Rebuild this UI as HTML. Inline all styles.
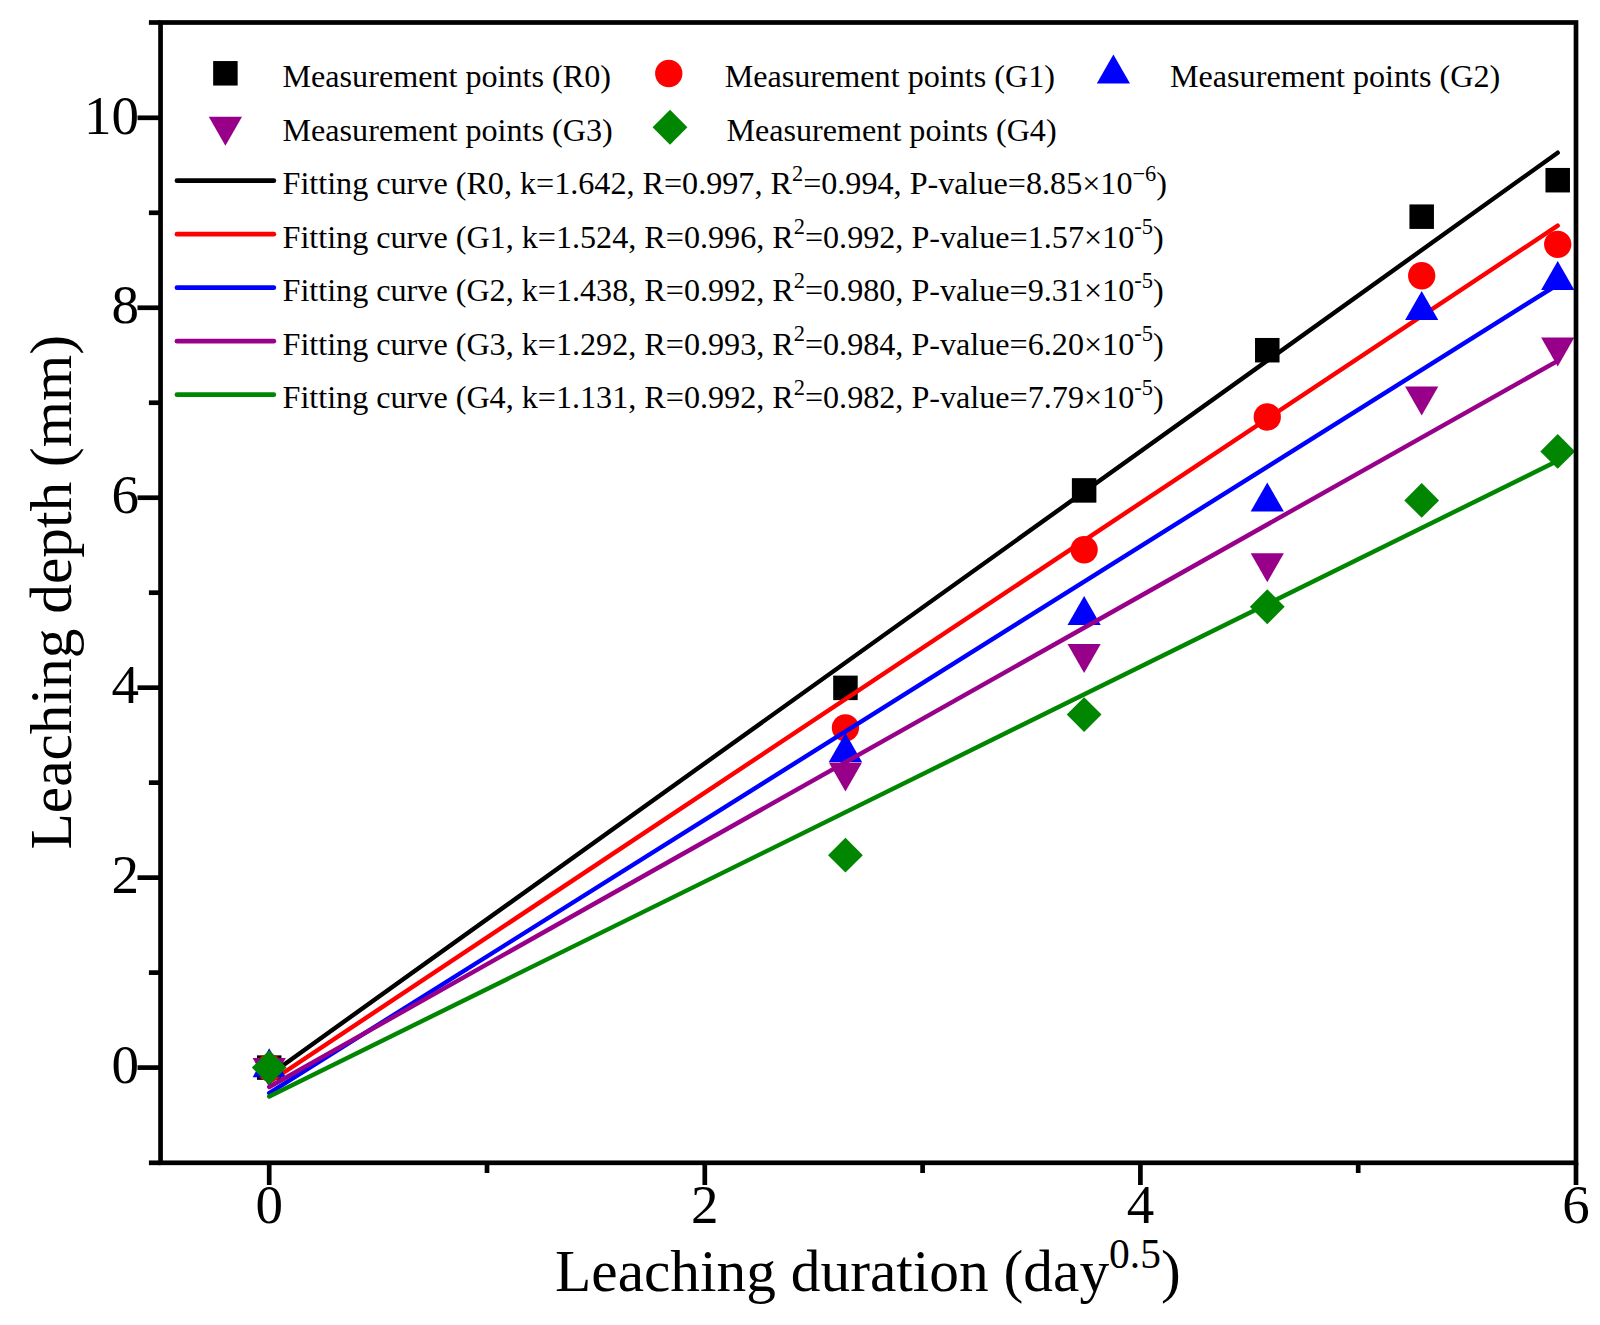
<!DOCTYPE html>
<html lang="en"><head><meta charset="utf-8"><title>Leaching depth vs leaching duration</title>
<style>html,body{margin:0;padding:0;background:#fff}body{width:1600px;height:1325px;overflow:hidden}svg{display:block}text{font-kerning:none;font-family:"Liberation Serif","Times New Roman",Times,serif;fill:#000}</style>
</head><body>
<svg width="1600" height="1325" viewBox="0 0 1600 1325">
<rect width="1600" height="1325" fill="#fff"/>
<g id="series">
<rect x="256.95" y="1055.35" width="24.5" height="24.5" fill="#000000"/>
<rect x="833.19" y="675.62" width="24.5" height="24.5" fill="#000000"/>
<rect x="1071.88" y="478.16" width="24.5" height="24.5" fill="#000000"/>
<rect x="1255.03" y="337.97" width="24.5" height="24.5" fill="#000000"/>
<rect x="1409.44" y="204.42" width="24.5" height="24.5" fill="#000000"/>
<rect x="1545.47" y="167.95" width="24.5" height="24.5" fill="#000000"/>
<line x1="269.20" y1="1075.18" x2="1557.72" y2="152.69" stroke="#000000" stroke-width="4.4" stroke-linecap="round"/>
<circle cx="269.20" cy="1067.60" r="13.65" fill="#ff0000"/>
<circle cx="845.44" cy="727.86" r="13.65" fill="#ff0000"/>
<circle cx="1084.13" cy="549.77" r="13.65" fill="#ff0000"/>
<circle cx="1267.28" cy="416.99" r="13.65" fill="#ff0000"/>
<circle cx="1421.69" cy="275.75" r="13.65" fill="#ff0000"/>
<circle cx="1557.72" cy="244.31" r="13.65" fill="#ff0000"/>
<line x1="269.20" y1="1082.24" x2="1557.72" y2="225.63" stroke="#ff0000" stroke-width="4.4" stroke-linecap="round"/>
<polygon points="269.20,1048.27 285.80,1077.27 252.60,1077.27" fill="#0000ff"/>
<polygon points="845.44,733.12 862.04,762.12 828.84,762.12" fill="#0000ff"/>
<polygon points="1084.13,595.88 1100.73,624.88 1067.53,624.88" fill="#0000ff"/>
<polygon points="1267.28,482.47 1283.88,511.47 1250.68,511.47" fill="#0000ff"/>
<polygon points="1421.69,290.90 1438.29,319.90 1405.09,319.90" fill="#0000ff"/>
<polygon points="1557.72,260.88 1574.32,289.88 1541.12,289.88" fill="#0000ff"/>
<line x1="269.20" y1="1093.09" x2="1557.72" y2="284.53" stroke="#0000ff" stroke-width="4.4" stroke-linecap="round"/>
<polygon points="269.20,1086.93 285.80,1057.93 252.60,1057.93" fill="#98008a"/>
<polygon points="845.44,791.55 862.04,762.55 828.84,762.55" fill="#98008a"/>
<polygon points="1084.13,673.11 1100.73,644.11 1067.53,644.11" fill="#98008a"/>
<polygon points="1267.28,582.21 1283.88,553.21 1250.68,553.21" fill="#98008a"/>
<polygon points="1421.69,415.42 1438.29,386.42 1405.09,386.42" fill="#98008a"/>
<polygon points="1557.72,366.61 1574.32,337.61 1541.12,337.61" fill="#98008a"/>
<line x1="269.20" y1="1086.96" x2="1557.72" y2="360.86" stroke="#98008a" stroke-width="4.4" stroke-linecap="round"/>
<polygon points="269.20,1050.20 286.60,1067.60 269.20,1085.00 251.80,1067.60" fill="#008600"/>
<polygon points="845.44,837.82 862.84,855.22 845.44,872.62 828.04,855.22" fill="#008600"/>
<polygon points="1084.13,697.16 1101.53,714.56 1084.13,731.96 1066.73,714.56" fill="#008600"/>
<polygon points="1267.28,589.36 1284.68,606.76 1267.28,624.16 1249.88,606.76" fill="#008600"/>
<polygon points="1421.69,482.98 1439.09,500.38 1421.69,517.78 1404.29,500.38" fill="#008600"/>
<polygon points="1557.72,434.06 1575.12,451.46 1557.72,468.86 1540.32,451.46" fill="#008600"/>
<line x1="269.20" y1="1096.46" x2="1557.72" y2="460.83" stroke="#008600" stroke-width="4.4" stroke-linecap="round"/>
</g>
<g id="axes" stroke="#000" stroke-width="4.7" fill="none">
<rect x="160.55" y="22.5" width="1415.45" height="1140.3"/>
<line x1="148.9" y1="1162.80" x2="160.55" y2="1162.80"/>
<line x1="137.5" y1="1067.60" x2="160.55" y2="1067.60"/>
<line x1="148.9" y1="972.62" x2="160.55" y2="972.62"/>
<line x1="137.5" y1="877.64" x2="160.55" y2="877.64"/>
<line x1="148.9" y1="782.66" x2="160.55" y2="782.66"/>
<line x1="137.5" y1="687.68" x2="160.55" y2="687.68"/>
<line x1="148.9" y1="592.70" x2="160.55" y2="592.70"/>
<line x1="137.5" y1="497.72" x2="160.55" y2="497.72"/>
<line x1="148.9" y1="402.74" x2="160.55" y2="402.74"/>
<line x1="137.5" y1="307.76" x2="160.55" y2="307.76"/>
<line x1="148.9" y1="212.78" x2="160.55" y2="212.78"/>
<line x1="137.5" y1="117.80" x2="160.55" y2="117.80"/>
<line x1="148.9" y1="22.50" x2="160.55" y2="22.50"/>
<line x1="269.20" y1="1162.8" x2="269.20" y2="1185"/>
<line x1="487.00" y1="1162.8" x2="487.00" y2="1173"/>
<line x1="704.80" y1="1162.8" x2="704.80" y2="1185"/>
<line x1="922.60" y1="1162.8" x2="922.60" y2="1173"/>
<line x1="1140.40" y1="1162.8" x2="1140.40" y2="1185"/>
<line x1="1358.20" y1="1162.8" x2="1358.20" y2="1173"/>
<line x1="1576.00" y1="1162.8" x2="1576.00" y2="1185"/>
</g>
<g id="ticklabels" font-size="55">
<text x="139" y="1083.30" text-anchor="end">0</text>
<text x="139" y="893.34" text-anchor="end">2</text>
<text x="139" y="703.38" text-anchor="end">4</text>
<text x="139" y="513.42" text-anchor="end">6</text>
<text x="139" y="323.46" text-anchor="end">8</text>
<text x="139" y="133.50" text-anchor="end">10</text>
<text x="269.20" y="1222.9" text-anchor="middle">0</text>
<text x="704.80" y="1222.9" text-anchor="middle">2</text>
<text x="1140.40" y="1222.9" text-anchor="middle">4</text>
<text x="1576.00" y="1222.9" text-anchor="middle">6</text>
</g>
<text id="xtitle" x="555" y="1290.7" font-size="59.4">Leaching duration (day<tspan font-size="41.5" dy="-23.2">0.5</tspan><tspan dy="23.2">)</tspan></text>
<text id="ytitle" transform="translate(70.9,849.5) rotate(-90)" font-size="59.4">Leaching depth (mm)</text>
<g id="legend" font-size="32.15">
<rect x="213.15" y="61.05" width="24.5" height="24.5" fill="#000000"/>
<text x="282.5" y="87">Measurement points (R0)</text>
<circle cx="668.75" cy="73.50" r="13.65" fill="#ff0000"/>
<text x="724.7" y="87">Measurement points (G1)</text>
<polygon points="1113.40,54.57 1130.00,83.57 1096.80,83.57" fill="#0000ff"/>
<text x="1170" y="87">Measurement points (G2)</text>
<polygon points="225.40,145.83 242.00,116.83 208.80,116.83" fill="#98008a"/>
<text x="282.5" y="140.5">Measurement points (G3)</text>
<polygon points="670.00,109.85 687.40,127.25 670.00,144.65 652.60,127.25" fill="#008600"/>
<text x="726.4" y="140.5">Measurement points (G4)</text>
<line x1="177" y1="180.70000000000002" x2="273.8" y2="180.70000000000002" stroke="#000000" stroke-width="4.8" stroke-linecap="round"/>
<text x="282.5" y="194.3">Fitting curve (R0, k=1.642, R=0.997, R<tspan font-size="22.4" dy="-13.4">2</tspan><tspan dy="13.4">=0.994, P-value=8.85×10</tspan><tspan font-size="22.4" dy="-13.4">−6</tspan><tspan dy="13.4">)</tspan></text>
<line x1="177" y1="234.20000000000002" x2="273.8" y2="234.20000000000002" stroke="#ff0000" stroke-width="4.8" stroke-linecap="round"/>
<text x="282.5" y="247.8">Fitting curve (G1, k=1.524, R=0.996, R<tspan font-size="22.4" dy="-13.4">2</tspan><tspan dy="13.4">=0.992, P-value=1.57×10</tspan><tspan font-size="22.4" dy="-13.4">-5</tspan><tspan dy="13.4">)</tspan></text>
<line x1="177" y1="287.7" x2="273.8" y2="287.7" stroke="#0000ff" stroke-width="4.8" stroke-linecap="round"/>
<text x="282.5" y="301.3">Fitting curve (G2, k=1.438, R=0.992, R<tspan font-size="22.4" dy="-13.4">2</tspan><tspan dy="13.4">=0.980, P-value=9.31×10</tspan><tspan font-size="22.4" dy="-13.4">-5</tspan><tspan dy="13.4">)</tspan></text>
<line x1="177" y1="341.2" x2="273.8" y2="341.2" stroke="#98008a" stroke-width="4.8" stroke-linecap="round"/>
<text x="282.5" y="354.8">Fitting curve (G3, k=1.292, R=0.993, R<tspan font-size="22.4" dy="-13.4">2</tspan><tspan dy="13.4">=0.984, P-value=6.20×10</tspan><tspan font-size="22.4" dy="-13.4">-5</tspan><tspan dy="13.4">)</tspan></text>
<line x1="177" y1="394.7" x2="273.8" y2="394.7" stroke="#008600" stroke-width="4.8" stroke-linecap="round"/>
<text x="282.5" y="408.3">Fitting curve (G4, k=1.131, R=0.992, R<tspan font-size="22.4" dy="-13.4">2</tspan><tspan dy="13.4">=0.982, P-value=7.79×10</tspan><tspan font-size="22.4" dy="-13.4">-5</tspan><tspan dy="13.4">)</tspan></text>
</g>
</svg></body></html>
